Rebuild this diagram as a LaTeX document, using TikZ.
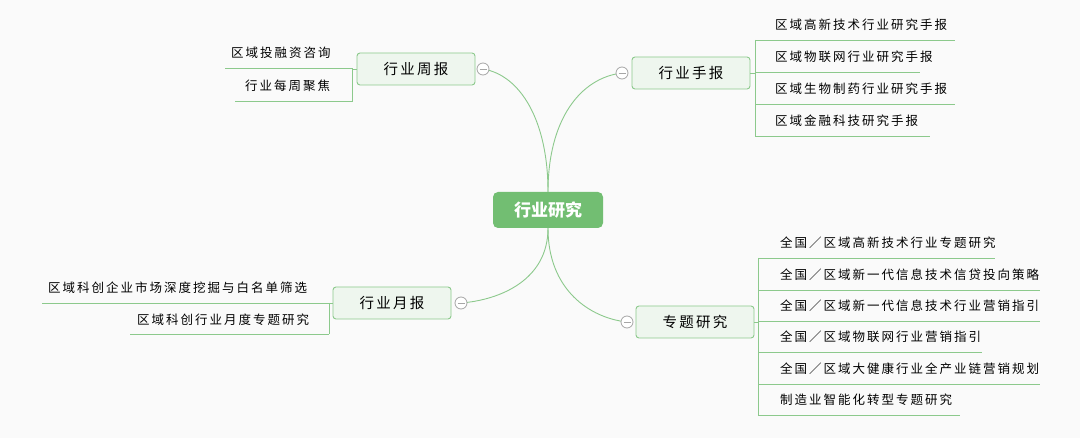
\documentclass[tikz,border=0pt]{standalone}
\usepackage{fontspec}
\newfontfamily\cjk{Noto Sans CJK SC}
\newfontfamily\cjkw[LetterSpace=16]{Noto Sans CJK SC}
\definecolor{ln}{HTML}{8CC98C}
\definecolor{bfill}{HTML}{EEF6EE}
\definecolor{cfill}{HTML}{72BE72}
\begin{document}
\begin{tikzpicture}[x=1pt,y=-1pt,
 conn/.style={draw=ln,line width=0.9pt},
 branch/.style={draw=ln,fill=bfill,rounded corners=3pt,minimum width=118pt,minimum height=32pt,font=\cjkw\fontsize{14.5}{16}\selectfont,line width=0.9pt},
 leaf/.style={anchor=west,font=\cjkw\fontsize{12.5}{14}\selectfont,inner sep=0pt},
 tog/.style={circle,draw=gray!70,fill=white,minimum size=12pt,inner sep=0pt,line width=0.8pt}]
\useasboundingbox[fill=white!98!black] (0,0) rectangle (1080,438);
\node[fill=cfill,rounded corners=5pt,minimum width=110pt,minimum height=36pt,text=white,font=\cjk\bfseries\fontsize{17}{19}\selectfont] (c) at (548,210) {行业研究};
\node[branch] (w) at (416,69) {行业周报};
\node[branch] (s) at (691,73) {行业手报};
\node[branch] (m) at (392,303) {行业月报};
\node[branch] (z) at (695,322) {专题研究};
% curves
\draw[conn] (c.north) .. controls (548,120) and (520,75) .. (483,69);
\draw[conn] (c.north) .. controls (548,120) and (580,78) .. (622,73);
\draw[conn] (c.south) .. controls (548,280) and (500,300) .. (461,303);
\draw[conn] (c.south) .. controls (548,290) and (590,318) .. (627,322);
\foreach \p/\n in {{(483,69)}/tw,{(622,73)}/ts,{(461,303)}/tm,{(627,322)}/tz}
  {\node[tog] (\n) at \p {}; \draw[gray!70,line width=0.8pt] ([xshift=-3.5pt]\n.center) -- ([xshift=3.5pt]\n.center);}
% weekly
\coordinate (w1) at (225,68); \coordinate (w1e) at (352,68);
\coordinate (w2) at (235,101); \coordinate (w2e) at (352,101);
\draw[conn] (w.west) -- (352,69) -- (w1e) -- (w1);
\draw[conn] (352,69) -- (w2e) -- (w2);
\node[leaf] (wt1) at (231,53) {区域投融资咨询};
\node[leaf] (wt2) at (245,86) {行业每周聚焦};
% quarterly
\draw[conn] (s.east) -- (755,73);
\draw[conn] (755,40) -- (755,136);
\foreach \y/\e/\t in {40/955/{区域高新技术行业研究手报},72/920/{区域物联网行业研究手报},104/955/{区域生物制药行业研究手报},136/930/{区域金融科技研究手报}}
  {\draw[conn] (755,\y) -- (\e,\y); \node[leaf] at (775,\y-15) {\t};}
% monthly
\draw[conn] (m.west) -- (329,303);
\draw[conn] (329,303) -- (329,334);
\draw[conn] (329,303) -- (42,303);
\draw[conn] (329,334) -- (130,334);
\node[leaf] (mt1) at (48,288) {区域科创企业市场深度挖掘与白名单筛选};
\node[leaf] (mt2) at (137,320) {区域科创行业月度专题研究};
% topics
\draw[conn] (z.east) -- (758,322);
\draw[conn] (758,258) -- (758,415);
\foreach \y/\e/\t in {258/995/{全国／区域高新技术行业专题研究},290/1040/{全国／区域新一代信息技术信贷投向策略},321/1040/{全国／区域新一代信息技术行业营销指引},352/982/{全国／区域物联网行业营销指引},384/1040/{全国／区域大健康行业全产业链营销规划},415/960/{制造业智能化转型专题研究}}
  {\draw[conn] (758,\y) -- (\e,\y); \node[leaf] at (780,\y-15) {\t};}
\end{tikzpicture}
\end{document}
